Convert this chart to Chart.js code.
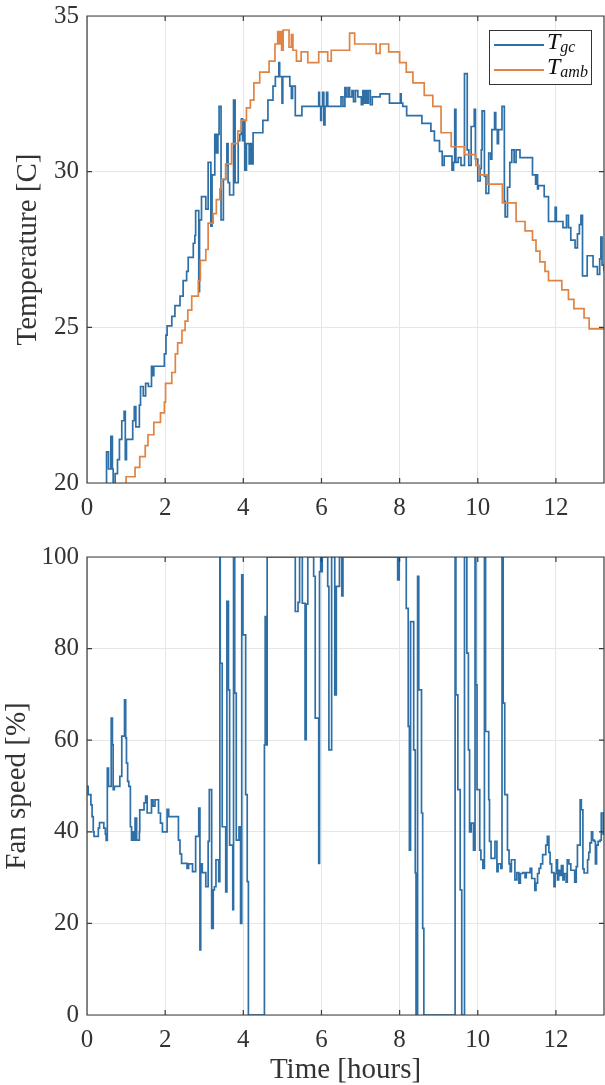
<!doctype html>
<html>
<head>
<meta charset="utf-8">
<title>Temperature and fan speed</title>
<script src="https://cdn.jsdelivr.net/npm/chart.js@4.4.1/dist/chart.umd.min.js"></script>
<style>
  body { margin: 0; background: #fff; }
  #wrap { position: relative; width: 605px; height: 1085px; overflow: hidden; }
  #temp { position: absolute; left: 0; top: 0; }
  #fan { position: absolute; left: 0; top: 540px; }
  #legend {
    position: absolute; left: 489px; top: 30px; width: 101px; height: 53px;
    border: 1px solid #333; background: #fff;
    font-family: 'Liberation Serif', serif; color: #111;
  }
  .row { position: absolute; left: 4px; height: 24px; }
  .swatch { position: absolute; left: 0; top: 11px; width: 50px; height: 2px; }
  .name { position: absolute; left: 53px; top: -6px; font-size: 24px; line-height: 28px; font-style: italic; white-space: nowrap; }
  .name sub { font-size: 16px; vertical-align: -3px; line-height: 0; }
</style>
</head>
<body>
<div id="wrap">
  <canvas id="temp" width="605" height="530"></canvas>
  <canvas id="fan" width="605" height="545"></canvas>
  <div id="legend">
    <div class="row" style="top: 2px;"><div class="swatch" id="swGc"></div><div class="name">T<sub>gc</sub></div></div>
    <div class="row" style="top: 27px;"><div class="swatch" id="swAmb"></div><div class="name">T<sub>amb</sub></div></div>
  </div>
</div>
<script>
  // greenhouse (gc) temperature, hours / degrees C
  const tgcHours = [
    0.49, 0.50, 0.55, 0.61, 0.65, 0.67, 0.72, 0.78, 0.83, 0.89,
    0.95, 0.98, 1.01, 1.17, 1.21, 1.25, 1.34, 1.37, 1.44, 1.50,
    1.57, 1.65, 1.69, 1.71, 1.98, 2.02, 2.05, 2.17, 2.25, 2.38,
    2.46, 2.55, 2.59, 2.72, 2.76, 2.78, 2.86, 2.88, 2.93, 3.04,
    3.10, 3.17, 3.20, 3.27, 3.31, 3.35, 3.38, 3.43, 3.49, 3.55,
    3.58, 3.61, 3.65, 3.75, 3.79, 3.87, 3.91, 3.95, 3.98, 4.01,
    4.04, 4.08, 4.15, 4.18, 4.21, 4.25, 4.50, 4.63, 4.76, 4.82,
    4.91, 4.93, 4.99, 5.01, 5.19, 5.23, 5.26, 5.33, 5.50, 5.93,
    5.95, 5.98, 6.00, 6.03, 6.06, 6.09, 6.13, 6.16, 6.50, 6.55,
    6.60, 6.63, 6.68, 6.72, 6.78, 6.82, 6.87, 6.93, 7.02, 7.06,
    7.10, 7.13, 7.17, 7.20, 7.25, 7.30, 7.50, 7.74, 8.02, 8.04,
    8.08, 8.18, 8.57, 8.80, 8.89, 9.02, 9.09, 9.14, 9.34, 9.38,
    9.41, 9.44, 9.50, 9.57, 9.66, 9.73, 9.77, 9.83, 9.91, 9.94,
    10.00, 10.06, 10.09, 10.11, 10.17, 10.21, 10.28, 10.33, 10.36, 10.43,
    10.46, 10.50, 10.53, 10.62, 10.68, 10.70, 10.76, 10.82, 10.87, 10.93,
    10.98, 11.08, 11.40, 11.48, 11.50, 11.53, 11.55, 11.70, 11.81, 11.98,
    12.01, 12.18, 12.27, 12.32, 12.38, 12.49, 12.55, 12.60, 12.64, 12.68,
    12.80, 12.95, 13.06, 13.12, 13.15, 13.18, 13.23
  ];
  const tgcTemp = [
    19.8, 21.0, 20.45, 21.5, 20.45, 19.9, 20.3, 20.75, 21.4, 22.0,
    22.3, 20.75, 21.4, 22.0, 22.45, 21.8, 22.5, 23.1, 22.8, 23.2,
    23.1, 23.75, 23.45, 23.75, 24.15, 24.75, 25.05, 25.35, 25.7, 26.0,
    26.5, 26.8, 27.25, 27.7, 27.95, 28.75, 26.15, 28.45, 29.2, 28.8,
    30.3, 28.25, 29.9, 31.2, 30.6, 31.2, 32.1, 28.45, 29.75, 30.2,
    30.9, 29.65, 29.25, 32.3, 29.65, 31.0, 31.2, 31.7, 31.0, 31.65,
    30.05, 30.9, 30.25, 30.9, 30.25, 31.25, 31.65, 32.3, 32.75, 33.05,
    33.5, 33.05, 32.2, 33.05, 32.75, 32.35, 32.75, 31.8, 32.1, 32.55,
    32.1, 31.65, 32.1, 32.55, 31.5, 32.1, 32.55, 32.1, 32.4, 32.1,
    32.7, 32.4, 32.7, 32.4, 32.6, 32.25, 32.6, 32.4, 32.15, 32.6,
    32.2, 32.6, 32.2, 32.6, 32.15, 32.4, 32.5, 32.2, 32.5, 32.2,
    32.1, 31.8, 31.55, 31.3, 31.0, 30.65, 30.2, 30.5, 30.05, 30.3,
    32.0, 30.3, 30.45, 30.2, 33.15, 30.7, 30.2, 31.45, 32.0, 30.4,
    29.7, 30.1, 30.7, 31.95, 29.85, 29.3, 30.6, 30.4, 31.35, 31.9,
    31.35, 30.9, 31.35, 32.1, 29.05, 28.55, 29.5, 30.3, 30.7, 30.3,
    30.7, 30.45, 29.9, 29.6, 29.9, 29.45, 29.55, 29.2, 28.4, 28.85,
    28.4, 28.2, 28.6, 28.2, 27.8, 27.55, 28.0, 28.3, 28.6, 26.65,
    27.3, 26.95, 26.7, 27.2, 27.9, 27.0, 26.8
  ];

  // ambient temperature
  const tambHours = [
    0.49, 1.00, 1.23, 1.35, 1.49, 1.56, 1.71, 1.88, 1.98, 2.01, 2.17,
    2.26, 2.32, 2.43, 2.51, 2.58, 2.68, 2.85, 2.90, 3.04, 3.10,
    3.23, 3.31, 3.40, 3.44, 3.55, 3.70, 3.86, 3.95, 4.08, 4.18,
    4.27, 4.42, 4.66, 4.81, 4.88, 4.92, 4.95, 4.98, 5.02, 5.17,
    5.23, 5.27, 5.36, 5.48, 5.65, 5.93, 6.16, 6.25, 6.72, 6.85,
    7.40, 7.50, 7.72, 8.00, 8.17, 8.34, 8.63, 8.85, 9.06, 9.32,
    9.66, 9.95, 10.04, 10.25, 10.63, 10.98, 11.21, 11.40, 11.49, 11.59,
    11.72, 11.81, 12.15, 12.32, 12.46, 12.72, 12.85, 13.23
  ];
  const tambTemp = [
    19.8, 20.2, 20.5, 20.85, 21.2, 21.55, 21.95, 22.25, 22.6, 23.2, 23.55,
    24.15, 24.5, 24.9, 25.2, 25.55, 26.0, 26.5, 27.15, 27.5, 28.35,
    28.65, 29.1, 29.45, 29.75, 30.25, 30.9, 31.3, 31.65, 32.05, 32.3,
    32.85, 33.2, 33.55, 34.1, 34.5, 34.1, 34.5, 33.9, 34.55, 34.0,
    34.4, 33.9, 33.55, 33.85, 33.5, 33.85, 33.55, 33.9, 34.45, 34.1,
    33.8, 34.1, 33.85, 33.5, 33.2, 32.85, 32.45, 32.1, 31.25, 30.8,
    30.55, 30.2, 29.9, 29.6, 29.0, 28.4, 28.1, 27.8, 27.45, 27.1,
    26.8, 26.5, 26.2, 25.9, 25.6, 25.3, 24.95, 24.95
  ];

  // fan speed, percent
  const fanHours = [
    0.00, 0.03, 0.10, 0.13, 0.16, 0.18, 0.29, 0.32, 0.43, 0.47,
    0.49, 0.52, 0.55, 0.62, 0.65, 0.67, 0.70, 0.84, 0.89, 0.96,
    0.99, 1.01, 1.04, 1.07, 1.11, 1.14, 1.17, 1.20, 1.23, 1.27,
    1.34, 1.35, 1.46, 1.50, 1.54, 1.65, 1.69, 1.74, 1.83, 1.88,
    1.93, 2.05, 2.09, 2.34, 2.38, 2.42, 2.56, 2.60, 2.70, 2.78,
    2.86, 2.89, 2.91, 2.95, 3.04, 3.10, 3.13, 3.19, 3.23, 3.26,
    3.30, 3.37, 3.40, 3.41, 3.46, 3.55, 3.58, 3.62, 3.65, 3.73,
    3.75, 3.78, 3.82, 3.89, 3.93, 3.96, 3.99, 4.06, 4.10, 4.13,
    4.54, 4.56, 4.59, 4.61, 5.33, 5.40, 5.44, 5.51, 5.58, 5.61,
    5.65, 5.80, 5.84, 5.93, 5.95, 5.98, 6.00, 6.02, 6.16, 6.19,
    6.26, 6.34, 6.38, 6.46, 6.52, 6.55, 7.95, 7.99, 8.17, 8.22,
    8.25, 8.28, 8.36, 8.40, 8.42, 8.46, 8.49, 8.56, 8.59, 8.62,
    9.42, 9.44, 9.49, 9.55, 9.59, 9.66, 9.72, 9.76, 9.79, 9.83,
    9.89, 9.93, 9.95, 9.98, 10.05, 10.08, 10.13, 10.17, 10.20, 10.28,
    10.30, 10.34, 10.44, 10.49, 10.52, 10.59, 10.62, 10.65, 10.69, 10.76,
    10.80, 10.83, 10.86, 10.95, 11.00, 11.05, 11.09, 11.15, 11.21, 11.24,
    11.34, 11.38, 11.46, 11.49, 11.53, 11.57, 11.61, 11.66, 11.74, 11.78,
    11.82, 11.85, 11.89, 11.95, 11.98, 12.01, 12.04, 12.07, 12.11, 12.14,
    12.18, 12.21, 12.26, 12.29, 12.33, 12.38, 12.48, 12.52, 12.55, 12.62,
    12.65, 12.69, 12.72, 12.81, 12.84, 12.87, 12.91, 12.94, 12.98, 13.01,
    13.04, 13.08, 13.13, 13.16, 13.21, 13.23
  ];
  const fanSpeed = [
    49.9, 48.1, 45.9, 43.3, 40.0, 39.0, 40.8, 42.0, 40.8, 39.5,
    38.1, 53.9, 49.9, 64.8, 59.0, 49.2, 49.9, 52.1, 60.9, 68.8,
    60.5, 55.0, 51.0, 49.9, 41.1, 38.2, 40.0, 38.2, 43.0, 38.2,
    40.0, 44.8, 46.3, 47.8, 44.1, 47.0, 45.6, 47.0, 44.1, 41.9,
    40.0, 44.9, 43.3, 38.2, 35.2, 33.1, 32.0, 33.0, 31.3, 39.0,
    45.2, 14.2, 33.0, 31.1, 28.0, 37.9, 49.2, 18.9, 27.3, 28.0,
    33.9, 29.1, 100, 76.8, 41.1, 26.9, 90.3, 71.0, 37.1, 23.0,
    100, 70.3, 38.2, 41.1, 20.0, 96.1, 83.0, 48.1, 29.1, 0,
    59.0, 87.0, 59.0, 100, 88.1, 90.1, 100, 89.9, 60.1, 89.7,
    100, 95.8, 64.8, 33.1, 96.8, 100, 96.8, 100, 93.6, 57.9,
    100, 69.9, 93.6, 100, 91.5, 100, 95.0, 100, 88.8, 63.0,
    36.0, 85.9, 57.9, 31.0, 0, 95.8, 71.0, 44.1, 18.9, 0,
    100, 69.9, 49.2, 27.3, 0, 100, 79.0, 57.9, 40.0, 41.9,
    36.0, 100, 72.1, 49.2, 36.0, 33.9, 32.0, 100, 61.9, 47.0,
    37.9, 34.2, 37.9, 31.3, 33.0, 32.0, 100, 68.1, 48.1, 36.0,
    33.0, 31.3, 33.9, 29.5, 31.1, 28.8, 30.9, 31.1, 30.0, 31.1,
    32.0, 29.8, 27.2, 28.8, 30.9, 32.0, 33.0, 35.0, 37.1, 39.0,
    35.5, 33.0, 31.1, 28.0, 30.9, 33.9, 29.5, 31.6, 30.5, 32.6,
    29.5, 30.9, 29.0, 33.9, 33.0, 31.6, 29.0, 32.4, 37.1, 47.0,
    44.8, 31.9, 31.0, 33.9, 35.5, 37.6, 40.0, 38.2, 37.9, 33.0,
    37.1, 37.9, 38.2, 44.1, 39.5, 39.5
  ];

  const hourTicks = [0, 2, 4, 6, 8, 10, 12];
  const tempTicks = [20, 25, 30, 35];
  const fanTicks = [0, 20, 40, 60, 80, 100];

  const blue = '#2d6fa6';
  const orange = '#df8444';
  const gridColor = '#e6e6e6';
  const axisColor = '#3a3a3a';
  const textColor = '#333';
  const tickFont = { family: "'Liberation Serif', serif", size: 25 };
  const titleFont = { family: "'Liberation Serif', serif", size: 29 };

  document.getElementById('swGc').style.background = blue;
  document.getElementById('swAmb').style.background = orange;

  const toPoints = (xs, ys) => {
    if (xs.length !== ys.length) console.warn('length mismatch', xs.length, ys.length);
    return xs.map((x, i) => ({ x: x, y: ys[i] }));
  };

  const setTicks = (values) => (scale) => {
    scale.ticks = values.map(v => ({ value: v }));
  };

  // matlab style box with inward tick marks
  const boxPlugin = {
    id: 'box',
    afterDraw(chart) {
      const { ctx, chartArea: a, scales: { x, y } } = chart;
      ctx.save();
      ctx.strokeStyle = axisColor;
      ctx.lineWidth = 1.2;
      ctx.beginPath();
      x.ticks.forEach(t => {
        const px = x.getPixelForValue(t.value);
        ctx.moveTo(px, a.bottom); ctx.lineTo(px, a.bottom - 5);
        ctx.moveTo(px, a.top); ctx.lineTo(px, a.top + 5);
      });
      y.ticks.forEach(t => {
        const py = y.getPixelForValue(t.value);
        ctx.moveTo(a.left, py); ctx.lineTo(a.left + 5, py);
        ctx.moveTo(a.right, py); ctx.lineTo(a.right - 5, py);
      });
      ctx.rect(a.left, a.top, a.right - a.left, a.bottom - a.top);
      ctx.stroke();
      ctx.restore();
    }
  };

  const xScale = (axisHeight, withTitle) => ({
    type: 'linear',
    min: 0,
    max: 13.23,
    afterBuildTicks: setTicks(hourTicks),
    afterFit: (s) => { s.height = axisHeight; s.paddingLeft = 0; s.paddingRight = 0; },
    grid: { color: gridColor, drawTicks: false },
    border: { display: false },
    ticks: { font: tickFont, color: textColor, padding: 10, autoSkip: false, maxRotation: 0 },
    title: { display: withTitle, text: 'Time [hours]', font: titleFont, color: textColor, padding: { top: 0, bottom: -3 } }
  });

  const yScale = (min, max, values, text, titlePad) => ({
    min: min,
    max: max,
    afterBuildTicks: setTicks(values),
    afterFit: (s) => { s.width = 87; s.paddingTop = 0; s.paddingBottom = 0; },
    grid: { color: gridColor, drawTicks: false },
    border: { display: false },
    ticks: { font: tickFont, color: textColor, padding: 8 },
    title: { display: true, text: text, font: titleFont, color: textColor, padding: { top: titlePad, bottom: 0 } }
  });

  const tempChart = new Chart(document.getElementById('temp'), {
    type: 'line',
    data: {
      datasets: [{
        label: 'T_gc',
        data: toPoints(tgcHours, tgcTemp),
        borderColor: blue,
        borderWidth: 1.7,
        pointRadius: 0,
        stepped: true,
        order: 1
      }, {
        label: 'T_amb',
        data: toPoints(tambHours, tambTemp),
        borderColor: orange,
        borderWidth: 1.7,
        pointRadius: 0,
        stepped: true,
        order: 0
      }]
    },
    options: {
      responsive: false,
      animation: false,
      layout: { padding: { top: 16, right: 1, left: 0, bottom: 0 } },
      plugins: { legend: { display: false }, tooltip: { enabled: false } },
      scales: {
        x: xScale(47, false),
        y: yScale(20, 35, tempTicks, 'Temperature [C]', 11)
      }
    },
    plugins: [boxPlugin]
  });

  const fanChart = new Chart(document.getElementById('fan'), {
    type: 'line',
    data: {
      datasets: [{
        label: 'Fan speed',
        data: toPoints(fanHours, fanSpeed),
        borderColor: blue,
        borderWidth: 1.7,
        pointRadius: 0,
        stepped: true
      }]
    },
    options: {
      responsive: false,
      animation: false,
      layout: { padding: { top: 17, right: 1, left: 0, bottom: 0 } },
      plugins: { legend: { display: false }, tooltip: { enabled: false } },
      scales: {
        x: xScale(70, true),
        y: yScale(0, 100, fanTicks, 'Fan speed [%]', 0)
      }
    },
    plugins: [boxPlugin]
  });
</script>
</body>
</html>
